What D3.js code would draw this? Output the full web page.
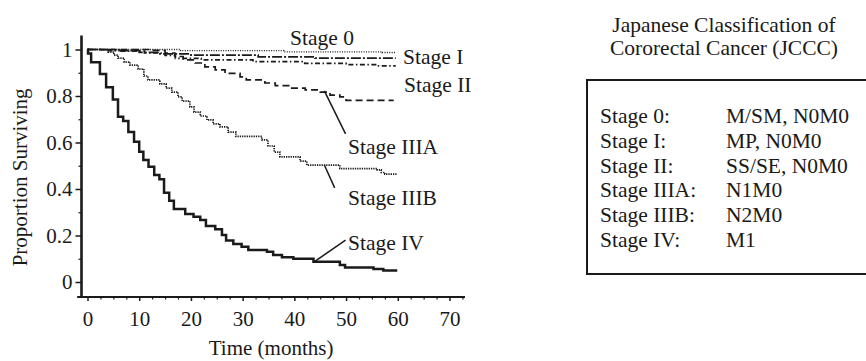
<!DOCTYPE html>
<html>
<head>
<meta charset="utf-8">
<script src="https://cdn.jsdelivr.net/npm/d3@7"></script>
<style>
  html, body { margin: 0; padding: 0; background: #fff; overflow: hidden; }
  svg { display: block; }
  svg text { font-family: "Liberation Serif", "Times New Roman", serif; fill: #1a1a1a; }
</style>
</head>
<body>
<div id="container"></div>
<script>
// Kaplan-Meier steps: [month, proportion surviving after the drop]
var stage0 = [[0, 1], [18, 0.995], [38, 0.99], [57, 0.987], [59.6, 0.987]];
var stage1 = [[0, 1], [4, 0.995], [10, 0.988], [14, 0.981], [20, 0.976], [33, 0.968], [44, 0.963], [59.6, 0.963]];
var stage2 = [[0, 1], [6, 0.993], [11, 0.985], [15, 0.975], [17, 0.962], [22, 0.955], [32, 0.948], [42, 0.94], [50, 0.935], [56, 0.93], [59.6, 0.93]];
var stage3a = [[0, 1], [12.1, 0.996], [15, 0.985], [16.9, 0.97], [18.5, 0.955], [20.8, 0.942], [22.7, 0.925], [24.7, 0.912],
  [26.6, 0.897], [29.5, 0.882], [30.7, 0.869], [34.3, 0.856], [36.3, 0.845], [39.2, 0.834], [42.1, 0.826], [45, 0.817],
  [46.9, 0.804], [48.8, 0.796], [50, 0.781], [59.2, 0.781]];
var stage3b = [[0, 1], [2.4, 0.998], [4, 0.989], [5.1, 0.976], [5.9, 0.963], [7.1, 0.946], [8.2, 0.933], [9.8, 0.916],
  [10.9, 0.886], [11.7, 0.869], [14, 0.852], [15.2, 0.834], [16.3, 0.817], [17.5, 0.796], [18.3, 0.778], [19.8, 0.753],
  [20.6, 0.731], [21.8, 0.714], [23.1, 0.697], [24.3, 0.68], [25.6, 0.667], [27.2, 0.645], [28.7, 0.626], [33.7, 0.611],
  [34.9, 0.585], [36.1, 0.559], [37.2, 0.538], [41.1, 0.52], [42.4, 0.503], [48.8, 0.488], [56, 0.482], [56.8, 0.471],
  [57.5, 0.464], [59.9, 0.464]];
var stage4 = [[0, 1], [0.1, 0.983], [0.7, 0.945], [2.4, 0.895], [3.6, 0.838], [4.9, 0.785], [5.9, 0.711], [6.9, 0.692],
  [7.9, 0.645], [9, 0.603], [10, 0.56], [10.8, 0.525], [11.8, 0.496], [12.9, 0.46], [13.9, 0.442], [14.8, 0.384],
  [15.8, 0.35], [16.7, 0.314], [18.9, 0.292], [20.5, 0.281], [21.8, 0.267], [22.9, 0.241], [24.7, 0.227], [26, 0.202],
  [26.8, 0.178], [28.2, 0.163], [29.8, 0.152], [31.1, 0.138], [34.7, 0.13], [35.9, 0.116], [37.6, 0.106], [39.8, 0.1],
  [43.7, 0.087], [48.8, 0.073], [49.8, 0.062], [55.3, 0.056], [57.2, 0.049], [59.9, 0.049]];

var xTicks = [0, 10, 20, 30, 40, 50, 60, 70];
var xMinorTicks = [2.5, 5, 7.5, 12.5, 15, 17.5, 22.5, 25, 27.5, 32.5, 35, 37.5, 42.5, 45, 47.5, 52.5, 55, 57.5, 62.5, 65, 67.5, 72.5];
var yTicks = [0, 0.2, 0.4, 0.6, 0.8, 1];
var yTickLabels = ["0", "0.2", "0.4", "0.6", "0.8", "1"];
var yMinorTicks = [0.1, 0.3, 0.5, 0.7, 0.9];

// leader lines from a curve to its label: [[month, value], [month, value]]
var leaderIIIA = [[45.8, 0.822], [49.9, 0.637]];
var leaderIIIB = [[45.8, 0.503], [47.8, 0.405]];
var leaderIV = [[43.9, 0.088], [49.9, 0.18]];

var legendTitle = ["Japanese Classification of", "Cororectal Cancer (JCCC)"];
var legendStages = ["Stage 0:", "Stage I:", "Stage II:", "Stage IIIA:", "Stage IIIB:", "Stage IV:"];
var legendCodes = ["M/SM, N0M0", "MP, N0M0", "SS/SE, N0M0", "N1M0", "N2M0", "M1"];

var series = [
  { name: "Stage 0", values: stage0, width: 1.3, dash: "1,1.4" },
  { name: "Stage I", values: stage1, width: 1.7, dash: "10,2,2,2" },
  { name: "Stage II", values: stage2, width: 1.7, dash: "5,2.5,1.5,2.5" },
  { name: "Stage IIIA", values: stage3a, width: 1.7, dash: "7,4" },
  { name: "Stage IIIB", values: stage3b, width: 1.7, dash: "1.3,1" },
  { name: "Stage IV", values: stage4, width: 2.5, dash: null }
];

var width = 866, height = 361;

var x = d3.scaleLinear().domain([0, 70]).range([87.5, 449.5]);
var y = d3.scaleLinear().domain([0, 1]).range([282, 49.5]);

var svg = d3.select("#container").append("svg")
    .attr("width", width)
    .attr("height", height);

var axisX = 297, axisY = 81.5;

// y axis
var gy = svg.append("g")
    .attr("transform", "translate(" + axisY + ",0)")
    .call(d3.axisLeft(y).tickValues(yTicks).tickSize(6).tickPadding(3)
      .tickFormat(function(d, i) { return yTickLabels[i]; }));
gy.select(".domain").remove();
gy.selectAll("line").attr("stroke", "#1a1a1a").attr("stroke-width", 1.5);
gy.selectAll("text").style("font-size", "21px");

var gyMinor = svg.append("g")
    .attr("transform", "translate(" + axisY + ",0)")
    .call(d3.axisLeft(y).tickValues(yMinorTicks).tickSize(3).tickFormat(""));
gyMinor.select(".domain").remove();
gyMinor.selectAll("line").attr("stroke", "#1a1a1a").attr("stroke-width", 1.2);

// x axis
var gx = svg.append("g")
    .attr("transform", "translate(0," + axisX + ")")
    .call(d3.axisBottom(x).tickValues(xTicks).tickSize(4).tickPadding(10));
gx.select(".domain").remove();
gx.selectAll("line").attr("stroke", "#1a1a1a").attr("stroke-width", 1.5);
gx.selectAll("text").style("font-size", "21px");

var gxMinor = svg.append("g")
    .attr("transform", "translate(0," + axisX + ")")
    .call(d3.axisBottom(x).tickValues(xMinorTicks).tickSize(2.5).tickFormat(""));
gxMinor.select(".domain").remove();
gxMinor.selectAll("line").attr("stroke", "#1a1a1a").attr("stroke-width", 1.2);

// axis lines
svg.append("line")
    .attr("x1", x(-2)).attr("x2", x(73))
    .attr("y1", axisX).attr("y2", axisX)
    .attr("stroke", "#1a1a1a").attr("stroke-width", 2.2);
svg.append("line")
    .attr("x1", axisY).attr("x2", axisY)
    .attr("y1", y(1.06)).attr("y2", axisX + 1)
    .attr("stroke", "#1a1a1a").attr("stroke-width", 2.6);

// axis titles
svg.append("text")
    .attr("x", x(35.5)).attr("y", 355)
    .attr("text-anchor", "middle")
    .style("font-size", "21px")
    .text("Time (months)");
svg.append("text")
    .attr("transform", "translate(27," + y(0.45) + ") rotate(-90)")
    .attr("text-anchor", "middle")
    .style("font-size", "21px")
    .text("Proportion Surviving");

// survival curves
var line = d3.line()
    .x(function(d) { return x(d[0]); })
    .y(function(d) { return y(d[1]); })
    .curve(d3.curveStepAfter);

svg.selectAll(".km")
    .data(series)
  .enter().append("path")
    .attr("class", "km")
    .attr("fill", "none")
    .attr("stroke", "#1a1a1a")
    .attr("stroke-width", function(s) { return s.width; })
    .attr("stroke-dasharray", function(s) { return s.dash; })
    .attr("d", function(s) { return line(s.values); });

// leader lines
var plain = d3.line()
    .x(function(d) { return x(d[0]); })
    .y(function(d) { return y(d[1]); });

[leaderIIIA, leaderIIIB, leaderIV].forEach(function(l) {
  svg.append("path")
      .attr("d", plain(l))
      .attr("fill", "none")
      .attr("stroke", "#1a1a1a")
      .attr("stroke-width", 1.5);
});

// curve labels
var labelLayout = [
  { text: "Stage 0", x: 290, y: 45 },
  { text: "Stage I", x: 403, y: 64 },
  { text: "Stage II", x: 404, y: 92 },
  { text: "Stage IIIA", x: 348, y: 154 },
  { text: "Stage IIIB", x: 348, y: 205 },
  { text: "Stage IV", x: 348, y: 250 }
];
svg.selectAll(".curve-label")
    .data(labelLayout)
  .enter().append("text")
    .attr("class", "curve-label")
    .attr("x", function(d) { return d.x; })
    .attr("y", function(d) { return d.y; })
    .style("font-size", "21.5px")
    .text(function(d) { return d.text; });

// classification legend
svg.selectAll(".legend-title")
    .data(legendTitle)
  .enter().append("text")
    .attr("class", "legend-title")
    .attr("x", 724)
    .attr("y", function(d, i) { return 32 + i * 22.5; })
    .attr("text-anchor", "middle")
    .style("font-size", "21.5px")
    .text(function(d) { return d; });

svg.append("rect")
    .attr("x", 587).attr("y", 80)
    .attr("width", 400).attr("height", 194)
    .attr("fill", "none")
    .attr("stroke", "#1a1a1a")
    .attr("stroke-width", 2);

var rows = svg.selectAll(".legend-row")
    .data(legendStages)
  .enter().append("g")
    .attr("class", "legend-row")
    .attr("transform", function(d, i) { return "translate(0," + (123 + i * 24.8) + ")"; });

rows.append("text")
    .attr("x", 600)
    .style("font-size", "21.5px")
    .text(function(d) { return d; });

rows.append("text")
    .attr("x", 726)
    .style("font-size", "21.5px")
    .text(function(d, i) { return legendCodes[i]; });
</script>
</body>
</html>
